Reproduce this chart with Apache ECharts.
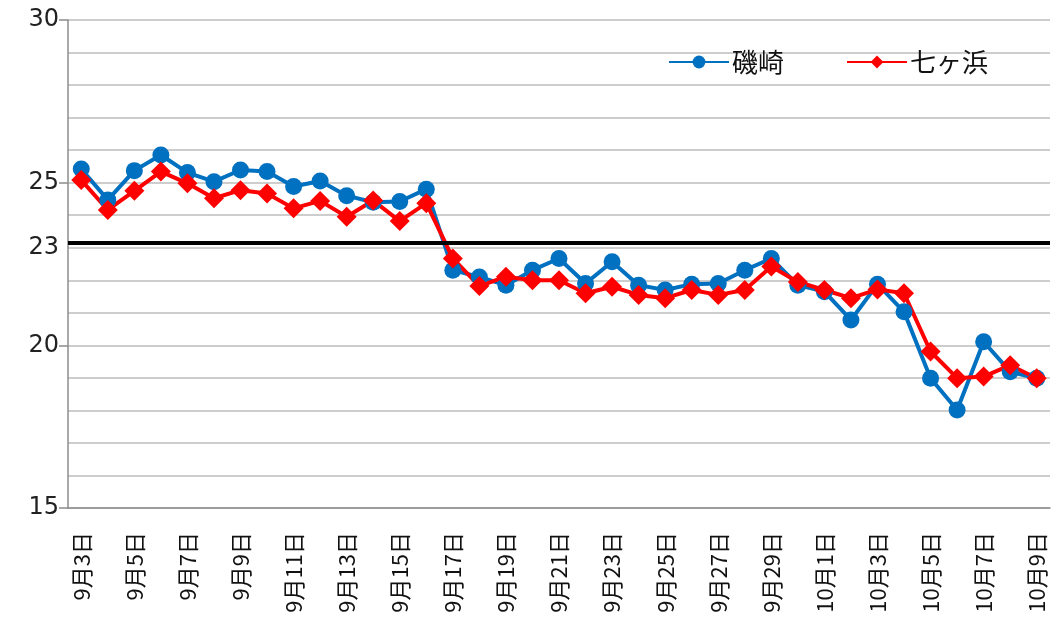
<!DOCTYPE html>
<html>
<head>
<meta charset="utf-8">
<script src="https://cdn.jsdelivr.net/npm/echarts@6/dist/echarts.min.js"></script>
<style>
  html, body { margin: 0; padding: 0; background: #fff; }
  #water_temp_chart { width: 1057px; height: 637px; }
</style>
</head>
<body>
<div id="water_temp_chart"></div>
<script>
const days = [
  '9月3日', '9月4日', '9月5日', '9月6日', '9月7日', '9月8日', '9月9日', '9月10日',
  '9月11日', '9月12日', '9月13日', '9月14日', '9月15日', '9月16日', '9月17日', '9月18日',
  '9月19日', '9月20日', '9月21日', '9月22日', '9月23日', '9月24日', '9月25日', '9月26日',
  '9月27日', '9月28日', '9月29日', '9月30日', '10月1日', '10月2日', '10月3日', '10月4日',
  '10月5日', '10月6日', '10月7日', '10月8日', '10月9日'
];

// 磯崎
const isozaki = [
  25.42, 24.47, 25.37, 25.85, 25.31, 25.03, 25.39, 25.34, 24.88, 25.05,
  24.6, 24.4, 24.42, 24.8, 22.31, 22.1, 21.85, 22.31, 22.67, 21.9,
  22.57, 21.85, 21.7, 21.88, 21.9, 22.31, 22.67, 21.85, 21.65, 20.78,
  21.88, 21.03, 18.99, 18.01, 20.11, 19.19, 18.99
];

// 七ヶ浜
const shichigahama = [
  25.08, 24.16, 24.75, 25.34, 24.98, 24.52, 24.77, 24.67, 24.21, 24.44,
  23.95, 24.45, 23.82, 24.37, 22.67, 21.82, 22.11, 22.0, 22.0, 21.6,
  21.8, 21.55, 21.45, 21.7, 21.55, 21.7, 22.42, 21.95, 21.7, 21.45,
  21.72, 21.6, 19.81, 18.99, 19.04, 19.39, 18.99
];

const yLabelValues = [15, 20, 23, 25, 30];
const yTickValues = [15, 20, 25, 30];
const referenceLevel = 23.15;

const fontFamily = '"Noto Sans CJK JP", "Noto Sans", sans-serif';

const option = {
  animation: false,
  backgroundColor: '#fff',
  grid: { left: 68, right: 7, top: 20, bottom: 129, containLabel: false },
  legend: {
    left: 663,
    top: 44,
    itemWidth: 60,
    itemHeight: 16,
    itemGap: 62,
    textStyle: { fontFamily: fontFamily, fontSize: 26, color: '#111', padding: [0, 0, 0, -2] },
    data: ['磯崎', '七ヶ浜']
  },
  xAxis: {
    type: 'category',
    boundaryGap: true,
    data: days,
    axisLine: { lineStyle: { color: '#8c8c8c', width: 1.5 } },
    axisTick: { interval: 1, length: 11, lineStyle: { color: '#8c8c8c', width: 1.5 } },
    axisLabel: {
      interval: 1,
      rotate: 90,
      margin: 24,
      fontFamily: fontFamily,
      fontSize: 22,
      color: '#111'
    },
    splitLine: { show: false }
  },
  yAxis: [
    {
      type: 'value',
      min: 15,
      max: 30,
      interval: 1,
      axisLine: { show: true, lineStyle: { color: '#8c8c8c', width: 1.5 } },
      axisTick: { show: false },
      axisLabel: { show: false },
      splitLine: { show: true, lineStyle: { color: '#bdbdbd', width: 1.5 } }
    },
    {
      type: 'value',
      position: 'left',
      min: 15,
      max: 30,
      interval: 1,
      axisLine: { show: false },
      axisTick: {
        show: true,
        length: 9,
        customValues: yTickValues,
        lineStyle: { color: '#8c8c8c', width: 1.5 }
      },
      axisLabel: {
        customValues: yLabelValues,
        margin: 9,
        fontFamily: '"DejaVu Sans", sans-serif',
        fontSize: 24,
        color: '#222'
      },
      splitLine: { show: false }
    }
  ],
  series: [
    {
      name: '磯崎',
      type: 'line',
      data: isozaki,
      symbol: 'circle',
      symbolSize: 17,
      showAllSymbol: true,
      lineStyle: { color: '#0070c0', width: 4 },
      itemStyle: { color: '#0070c0' },
      markLine: {
        silent: true,
        symbol: 'none',
        label: { show: false },
        lineStyle: { color: '#000', width: 4, type: 'solid' },
        data: [{ yAxis: referenceLevel }]
      }
    },
    {
      name: '七ヶ浜',
      type: 'line',
      data: shichigahama,
      symbol: 'diamond',
      symbolSize: 20,
      showAllSymbol: true,
      lineStyle: { color: '#ff0000', width: 4 },
      itemStyle: { color: '#ff0000' }
    }
  ]
};

const chartDom = document.getElementById('water_temp_chart');
const myChart = echarts.init(chartDom);
myChart.setOption(option);
</script>
</body>
</html>
